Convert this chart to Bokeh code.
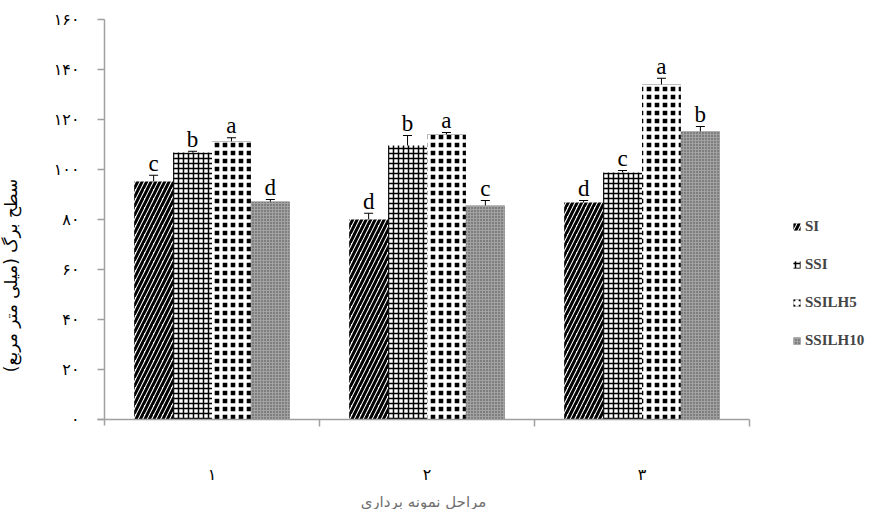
import math
from bokeh.plotting import figure
from bokeh.models import (Range1d, FixedTicker, Whisker, TeeHead, ColumnDataSource,
                          Legend, LegendItem, Label)
from bokeh.core.properties import value
from bokeh.embed import file_html
from bokeh.resources import INLINE

# ---- data ----
stages = ["۱", "۲", "۳"]
treatments = ["SI", "SSI", "SSILH5", "SSILH10"]
SI = [95.2, 80.0, 86.8]
SSI = [106.8, 109.6, 98.8]
SSILH5 = [111.2, 114.0, 134.0]
SSILH10 = [87.2, 85.6, 115.2]
SI_err = [2.5, 2.5, 0.8]
SSI_err = [0.5, 4.0, 0.8]
SSILH5_err = [1.5, 0.8, 2.5]
SSILH10_err = [0.8, 2.0, 2.0]
SI_letters = ["c", "d", "d"]
SSI_letters = ["b", "b", "c"]
SSILH5_letters = ["a", "a", "a"]
SSILH10_letters = ["d", "c", "b"]
y_ticks = [0, 20, 40, 60, 80, 100, 120, 140, 160]
y_tick_labels = ["۰", "۲۰", "۴۰", "۶۰", "۸۰", "۱۰۰", "۱۲۰", "۱۴۰", "۱۶۰"]
y_title = "سطح برگ (میلی متر مربع)"
x_title = "مراحل نمونه برداری"

values = [SI, SSI, SSILH5, SSILH10]
errors = [SI_err, SSI_err, SSILH5_err, SSILH10_err]
letters = [SI_letters, SSI_letters, SSILH5_letters, SSILH10_letters]

styles = [
    dict(fill_color="white", hatch_pattern="/", hatch_color="black", hatch_scale=9, hatch_weight=3),
    dict(fill_color="white", hatch_pattern="+", hatch_color="black", hatch_scale=5, hatch_weight=1.5),
    dict(fill_color="black", hatch_pattern="+", hatch_color="white", hatch_scale=8, hatch_weight=3.4),
    dict(fill_color="#7e7e7e", hatch_pattern="+", hatch_color="#a2a2a2", hatch_scale=3, hatch_weight=1),
]

BAR_W = 0.181
W, H = 880, 509
PX_X = 215.0   # pixels per category
PX_Y = 2.5     # pixels per unit
X0 = 104       # canvas x of category axis origin
Y0 = 419       # canvas y of value 0

p = figure(width=W, height=H,
           x_range=Range1d(-X0 / PX_X, (W - X0) / PX_X),
           y_range=Range1d(-(H - Y0) / PX_Y, Y0 / PX_Y),
           output_backend="svg", toolbar_location=None, min_border=0)
p.title.visible = False
p.outline_line_color = None
p.xgrid.visible = False
p.ygrid.visible = False
p.background_fill_color = "white"
p.border_fill_color = "white"

items = []
for j, name in enumerate(treatments):
    xs = [i + 0.5 + (j - 1.5) * BAR_W for i in range(len(stages))]
    ups = [v + e for v, e in zip(values[j], errors[j])]
    los = [v - e for v, e in zip(values[j], errors[j])]
    src = ColumnDataSource(dict(x=xs, top=values[j], upper=ups, lower=los, lab=letters[j]))
    r = p.vbar(x="x", top="top", bottom=0, width=BAR_W, source=src, line_color=None, **styles[j])
    items.append(LegendItem(label=name, renderers=[r]))
    w = Whisker(base="x", upper="upper", lower="lower", source=src, line_color="black", line_width=1,
                upper_head=TeeHead(size=9, line_color="black", line_width=1),
                lower_head=TeeHead(size=9, line_color="black", line_width=1))
    p.add_layout(w)
    p.text(x="x", y="upper", text="lab", source=src, text_align="center", text_baseline="alphabetic",
           y_offset=-12, text_font=value("Liberation Serif"), text_font_size="23px", text_color="black")

# y axis (drawn at x = 0)
yax = p.yaxis[0]
yax.fixed_location = 0
yax.bounds = (-6 / PX_Y, y_ticks[-1])
yax.ticker = FixedTicker(ticks=y_ticks)
yax.major_label_overrides = {t: l for t, l in zip(y_ticks, y_tick_labels)}
yax.minor_tick_line_color = None
yax.major_tick_in = 0
yax.major_tick_out = 7
yax.axis_line_color = "#a0a0a0"
yax.axis_line_width = 1.5
yax.major_tick_line_color = "#a0a0a0"
yax.major_tick_line_width = 1.5
yax.major_label_standoff = 18
yax.major_label_text_font = "DejaVu Sans"
yax.major_label_text_font_size = "16px"
yax.major_label_text_color = "black"

# x axis (drawn at y = 0)
xax = p.xaxis[0]
xax.fixed_location = 0
xax.bounds = (-7 / PX_X, len(stages))
xax.ticker = FixedTicker(ticks=[i + 0.5 for i in range(len(stages))],
                         minor_ticks=[i + 1 for i in range(len(stages))])
xax.major_label_overrides = {i + 0.5: s for i, s in enumerate(stages)}
xax.major_tick_line_color = None
xax.major_tick_in = 0
xax.major_tick_out = 7
xax.minor_tick_in = 0
xax.minor_tick_out = 7
xax.minor_tick_line_color = "#a0a0a0"
xax.minor_tick_line_width = 1.5
xax.axis_line_color = "#a0a0a0"
xax.axis_line_width = 1.5
xax.major_label_standoff = 38
xax.major_label_text_font = "DejaVu Sans"
xax.major_label_text_font_size = "16px"
xax.major_label_text_color = "black"
xax.axis_label = x_title
xax.axis_label_text_font = "DejaVu Sans"
xax.axis_label_text_font_size = "15px"
xax.axis_label_text_font_style = "normal"
xax.axis_label_text_color = "#707070"
xax.axis_label_standoff = 6

ylab = Label(x=(10 - X0) / PX_X, y=(Y0 - 275) / PX_Y, x_units="data", y_units="data", text=y_title,
             angle=math.pi / 2, text_align="center", text_baseline="middle", text_font="DejaVu Sans",
             text_font_size="17px", text_color="black")
p.add_layout(ylab)

legend = Legend(items=items, location=(792, 160), orientation="vertical",
                border_line_color=None, background_fill_alpha=0, margin=0, padding=0,
                glyph_width=9, glyph_height=9, label_standoff=4, spacing=21,
                label_text_font="Liberation Serif", label_text_font_style="bold",
                label_text_font_size="15px", label_height=16)
p.add_layout(legend, "center")

open("out.html", "w").write(file_html(p, INLINE))
